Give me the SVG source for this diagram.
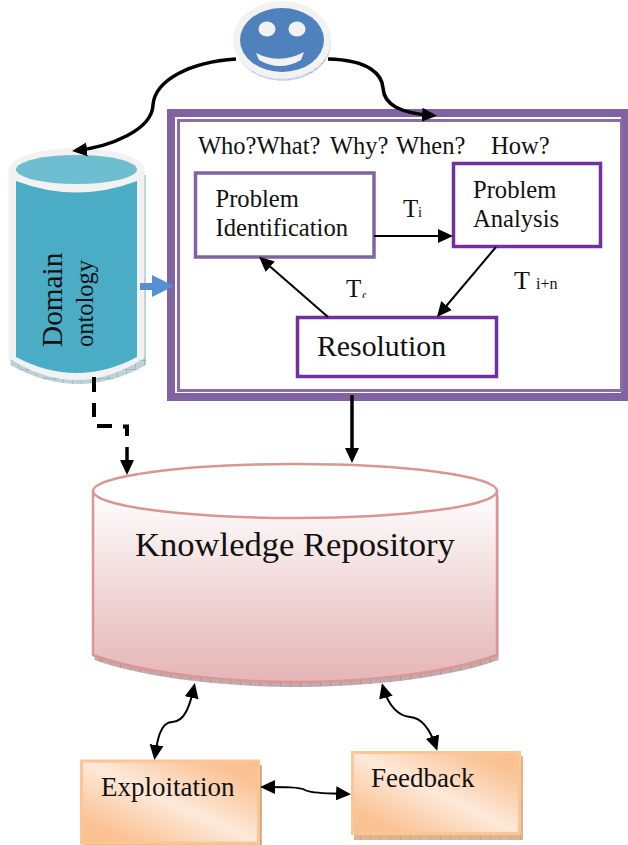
<svg xmlns="http://www.w3.org/2000/svg" width="628" height="845" viewBox="0 0 628 845">
<style>
text{font-family:"Liberation Serif","Times New Roman",serif;fill:#111}
.box{fill:#fff;stroke-width:3.5}
.c{fill:none;stroke:#000;stroke-width:3.500}
.t{fill:none;stroke:#000;stroke-width:2}
.d{fill:none;stroke:#000;stroke-width:4}
.peach{fill:url(#peach);stroke:#fbc595;stroke-width:3}
</style>
<defs>
<marker id="head" markerUnits="userSpaceOnUse" markerWidth="16" markerHeight="16" viewBox="0 0 16 16" refX="11" refY="8" orient="auto-start-reverse"><path d="M0,1 L15,8 L0,15 Z" fill="#000"/></marker>
<marker id="small" markerUnits="userSpaceOnUse" markerWidth="16" markerHeight="15" viewBox="0 0 16 15" refX="11" refY="7.500" orient="auto-start-reverse"><path d="M0,0.500 L15,7.500 L0,14.500 Z" fill="#000"/></marker>
<pattern id="hBlue" patternUnits="userSpaceOnUse" width="9" height="9"><rect width="9" height="9" fill="#bdd1d8"/><path d="M0,0V9M0,0H9" stroke="#7a9ca8" stroke-width=".8"/></pattern>
<pattern id="hFace" patternUnits="userSpaceOnUse" width="9" height="9"><rect width="9" height="9" fill="#c8d6e6"/><path d="M0,0V9M0,0H9" stroke="#7a96b5" stroke-width=".8"/></pattern>
<pattern id="hRed" patternUnits="userSpaceOnUse" width="10" height="30"><rect width="10" height="30" fill="#c4abab"/><path d="M0,0V30" stroke="#8f6a6a" stroke-width=".8"/></pattern>
<pattern id="hOrange" patternUnits="userSpaceOnUse" width="10" height="10"><rect width="10" height="10" fill="#dcb595"/><path d="M0,0V10M0,0H10" stroke="#b58c6a" stroke-width=".8"/></pattern>
<linearGradient id="repo" x1="0" y1="0" x2="0" y2="1"><stop offset="0" stop-color="#fff"/><stop offset=".12" stop-color="#fbf6f6"/><stop offset=".7" stop-color="#ebcaca"/><stop offset="1" stop-color="#e5b5b6"/></linearGradient>
<linearGradient id="peach" x1="1" y1="0" x2="0" y2="1"><stop offset="0" stop-color="#fabf8f"/><stop offset=".15" stop-color="#fac395"/><stop offset=".5" stop-color="#fde9d9"/><stop offset=".85" stop-color="#fac395"/><stop offset="1" stop-color="#fabf8f"/></linearGradient>
<clipPath id="tfClip"><rect x="340" y="270" width="40" height="27.500"/></clipPath>
</defs>

<g id="user">
<ellipse cx="283" cy="43" rx="48" ry="38" fill="url(#hFace)"/>
<ellipse cx="282" cy="40" rx="49" ry="39" fill="#f2f2f2"/>
<ellipse cx="282" cy="40" rx="42" ry="32" fill="#4f81bd"/>
<ellipse cx="267" cy="29" rx="8.500" ry="7.500" fill="#f2f2f2"/>
<ellipse cx="297" cy="29" rx="8.500" ry="7.500" fill="#f2f2f2"/>
<path d="M256,53 Q280,65 304,52 L301,60 Q280,72 259,60 Z" fill="#f2f2f2"/>
</g>

<g id="domain-ontology">
<path d="M10.500,175 V365 Q78,403 146,365 V175 Z" fill="url(#hBlue)"/>
<path d="M8.500,170 A68,22 0 0 1 144.500,170 V358 Q76.500,402 8.500,358 Z" fill="#f2f2f2"/>
<path d="M16,181 Q76.500,204 137,181 V357 Q76.500,389 16,357 Z" fill="#4bacc6"/>
<ellipse cx="76.500" cy="169.500" rx="60.500" ry="14.500" fill="#6fbdd1"/>
<text transform="translate(62,347) rotate(-90)" font-size="29.300">Domain</text>
<text transform="translate(93,347) rotate(-90)" font-size="24.500">ontology</text>
</g>

<g id="process-frame">
<rect x="171" y="113" width="454" height="284" fill="#fff" stroke="#8064a2" stroke-width="8"/>
<rect x="178.500" y="120.500" width="443" height="270" fill="none" stroke="#8a6ca8" stroke-width="3"/>
<text font-size="24.500" y="154"><tspan x="198">Who?What?</tspan><tspan x="330">Why?</tspan><tspan x="396">When?</tspan><tspan x="491">How?</tspan></text>
</g>

<g id="problem-identification">
<rect class="box" x="195.500" y="173" width="178.500" height="84" stroke="#8064a2"/>
<text font-size="24.600"><tspan x="215.500" y="207">Problem</tspan><tspan x="215.500" y="236">Identification</tspan></text>
</g>
<g id="problem-analysis">
<rect class="box" x="453.500" y="163.500" width="147" height="83" stroke="#7030a0"/>
<text font-size="24.600"><tspan x="473" y="198">Problem</tspan><tspan x="473" y="227">Analysis</tspan></text>
</g>
<g id="resolution">
<rect class="box" x="297.500" y="317.500" width="199" height="59" stroke="#7030a0"/>
<text x="317" y="356" font-size="29.800">Resolution</text>
</g>

<g id="knowledge-repository">
<path d="M94.500,496 V660 C153,681 243,687 296,687 S441,681 498.500,660 V496 Z" fill="url(#hRed)"/>
<path d="M93,491 V655 C150,676 240,682 295,682 S440,676 497,655 V491 Z" fill="url(#repo)" stroke="#d99694" stroke-width="2.500"/>
<ellipse cx="295" cy="491" rx="202" ry="27" fill="#fff" stroke="#d99694" stroke-width="2.500"/>
<text x="135" y="556" font-size="34.600">Knowledge Repository</text>
</g>

<g id="exploitation">
<rect x="84" y="765" width="178" height="80" fill="url(#hOrange)"/>
<rect class="peach" x="81.500" y="761" width="177" height="82"/>
<text x="101" y="796" font-size="27">Exploitation</text>
</g>
<g id="feedback">
<rect x="354" y="756" width="169" height="84" fill="url(#hOrange)"/>
<rect class="peach" x="352.500" y="752.500" width="167" height="81"/>
<text x="371" y="787" font-size="27">Feedback</text>
</g>

<g id="transition-labels">
<text x="403" y="217" font-size="25">T<tspan x="418" font-size="14.500">i</tspan></text>
<text x="514" y="289" font-size="26">T<tspan x="536" font-size="16">i+n</tspan></text>
<text x="346" y="297" font-size="25" clip-path="url(#tfClip)">T<tspan x="361" y="304" font-size="15">f</tspan></text>
</g>

<g id="connectors">
<path class="c" marker-end="url(#head)" d="M236,59 C190,62 155,80 153,105 C152,130 110,147 76,150.500"/>
<path class="c" marker-end="url(#head)" d="M328,59 C370,60 382,75 383,88 C384,105 400,113 433,115.500"/>
<path d="M140,283 H152 V275 L174,286 L152,297 V290 H140 Z" fill="#558ed5"/>
<path class="d" d="M94,377 V392 M94,403 V417 M97,426 H112 M123,426.500 H127 V436"/>
<path class="c" marker-end="url(#head)" d="M127,447 V471"/>
<path class="c" marker-end="url(#head)" d="M352,395 V459"/>
<path class="t" marker-end="url(#small)" d="M374,236 H449"/>
<path class="t" marker-end="url(#small)" d="M496,247 L439.500,314"/>
<path class="t" marker-end="url(#small)" d="M328,317 L262,259.500"/>
<path class="t" marker-start="url(#small)" marker-end="url(#small)" d="M194,687 C190,705 185,722 172,722 C160,722 157,742 155,756"/>
<path class="t" marker-start="url(#small)" marker-end="url(#small)" d="M383,687 C388,705 398,716 410,717 C424,718 432,735 436,747"/>
<path class="t" marker-start="url(#small)" marker-end="url(#small)" d="M264,787 C285,787 300,787 305,790 C312,794 330,793 347,794"/>
</g>
</svg>
